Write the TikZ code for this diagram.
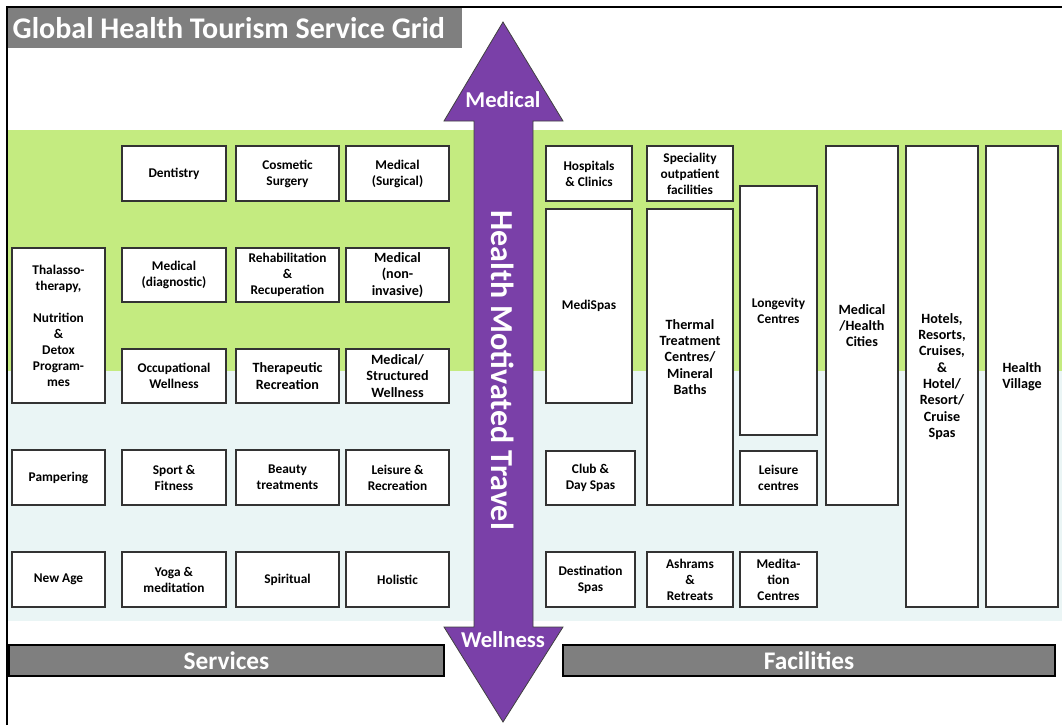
\documentclass[tikz,border=0pt]{standalone}
\usepackage{fontspec}
\setmainfont{Carlito}
\usetikzlibrary{positioning}
\definecolor{gtgreen}{HTML}{C4EB80}
\definecolor{gtmint}{HTML}{EAF5F5}
\definecolor{gtpurple}{HTML}{7A40A8}
\definecolor{gtgray}{HTML}{7F7F7F}
\tikzset{
  cell/.style   ={draw=black!80, fill=white, line width=0.9pt, inner sep=1pt,
                  align=center, font=\bfseries\fontsize{10}{12}\selectfont},
  cellbig/.style={cell, font=\bfseries\fontsize{10.6}{12.2}\selectfont},
  bar/.style    ={draw=black, fill=gtgray, line width=1pt, text=white,
                  font=\bfseries\fontsize{19}{22}\selectfont},
  tag/.style    ={text=white, font=\bfseries\fontsize{17}{20}\selectfont},
}
% box from corner (x1,y1) to (x2,y2), in pixels of the grid
\newcommand{\gbox}[7][cell]{%
  \node[#1, minimum width={(#5-#3)*0.75pt}, minimum height={(#6-#4)*0.75pt}]
    (#2) at ({(#3+#5)/2},{(#4+#6)/2}) {#7};}

\begin{document}
\begin{tikzpicture}[x=0.75pt,y=-0.75pt]
  \useasboundingbox (0,0) rectangle (1062,725);
  % frame and title
  \draw[line width=1.6pt] (7,725) -- (7,7) -- (1062,7);
  \fill[gtgray] (8,8) rectangle (462,48);
  \node[anchor=west, text=white, font=\bfseries\fontsize{22.5}{26}\selectfont]
    (title) at (8,28) {Global Health Tourism Service Grid};
  % medical / wellness bands
  \fill[gtgreen] (8,130) rectangle (1062,371);
  \fill[gtmint]  (8,371) rectangle (1062,621);

  % services
  \gbox{thalasso}{12}{248}{105}{403}{Thalasso-\\therapy,\\[12pt]Nutrition\\\&\\Detox\\Program-\\mes}
  \gbox{pamper}{12}{450}{105}{505}{Pampering}
  \gbox{newage}{12}{552}{105}{607}{New Age}
  \gbox{dentist}{122}{146}{226}{201}{Dentistry}
  \gbox{diagn}{122}{248}{226}{302}{Medical\\(diagnostic)}
  \gbox{occup}{122}{349}{226}{403}{Occupational\\Wellness}
  \gbox{sport}{122}{450}{226}{505}{Sport \&\\Fitness}
  \gbox{yoga}{122}{552}{226}{607}{Yoga \&\\meditation}
  \gbox{cosmetic}{236}{146}{339}{201}{Cosmetic\\Surgery}
  \gbox{rehab}{236}{248}{339}{302}{Rehabilitation\\\&\\Recuperation}
  \gbox[cellbig]{therap}{236}{349}{339}{403}{Therapeutic\\Recreation}
  \gbox{beauty}{236}{450}{339}{505}{Beauty\\treatments}
  \gbox{spirit}{236}{552}{339}{607}{Spiritual}
  \gbox{surgical}{346}{146}{449}{201}{Medical\\(Surgical)}
  \gbox[cellbig]{noninv}{346}{248}{449}{302}{Medical\\(non-\\invasive)}
  \gbox[cellbig]{struct}{346}{349}{449}{403}{Medical/\\Structured\\Wellness}
  \gbox{leisure}{346}{450}{449}{505}{Leisure \&\\Recreation}
  \gbox{holistic}{346}{552}{449}{607}{Holistic}

  % facilities
  \gbox{hospital}{546}{146}{632}{201}{Hospitals\\\& Clinics}
  \gbox{medispa}{546}{209}{632}{403}{MediSpas}
  \gbox{club}{546}{451}{635}{505}{Club \&\\Day Spas}
  \gbox{destin}{546}{552}{635}{607}{Destination\\Spas}
  \gbox{outpat}{647}{146}{733}{201}{Speciality\\outpatient\\facilities}
  \gbox[cellbig]{thermal}{647}{209}{733}{505}{Thermal\\Treatment\\Centres/\\Mineral\\Baths}
  \gbox{ashram}{647}{552}{733}{607}{Ashrams\\\&\\Retreats}
  \gbox{longev}{740}{186}{817}{435}{Longevity\\Centres}
  \gbox{leiscen}{740}{451}{817}{505}{Leisure\\centres}
  \gbox{medit}{740}{552}{817}{607}{Medita-\\tion\\Centres}
  \gbox[cellbig]{cities}{826}{146}{898}{505}{Medical\\/Health\\Cities}
  \gbox[cellbig]{hotels}{906}{146}{978}{607}{Hotels,\\Resorts,\\Cruises,\\\&\\Hotel/\\Resort/\\Cruise\\Spas}
  \gbox[cellbig]{village}{986}{146}{1058}{607}{Health\\Village}

  % footer bars
  \gbox[bar]{services}{9}{645}{444}{676}{Services}
  \gbox[bar]{facilities}{563}{645}{1055}{676}{Facilities}

  % double arrow between services and facilities
  \filldraw[fill=gtpurple, draw=black!75, line width=0.6pt]
    (503,22) -- (563,121) -- (533,121) -- (533,627) -- (563,627) -- (503,722)
    -- (444,627) -- (474,627) -- (474,121) -- (444,121) -- cycle;
  \node[tag] (medical) at (503,100) {Medical};
  \node[tag] (wellness) at (503,640) {Wellness};
  \node[tag, rotate=-90, font=\bfseries\fontsize{24}{28}\selectfont]
    (travel) at (503,370) {Health Motivated Travel};
\end{tikzpicture}
\end{document}
